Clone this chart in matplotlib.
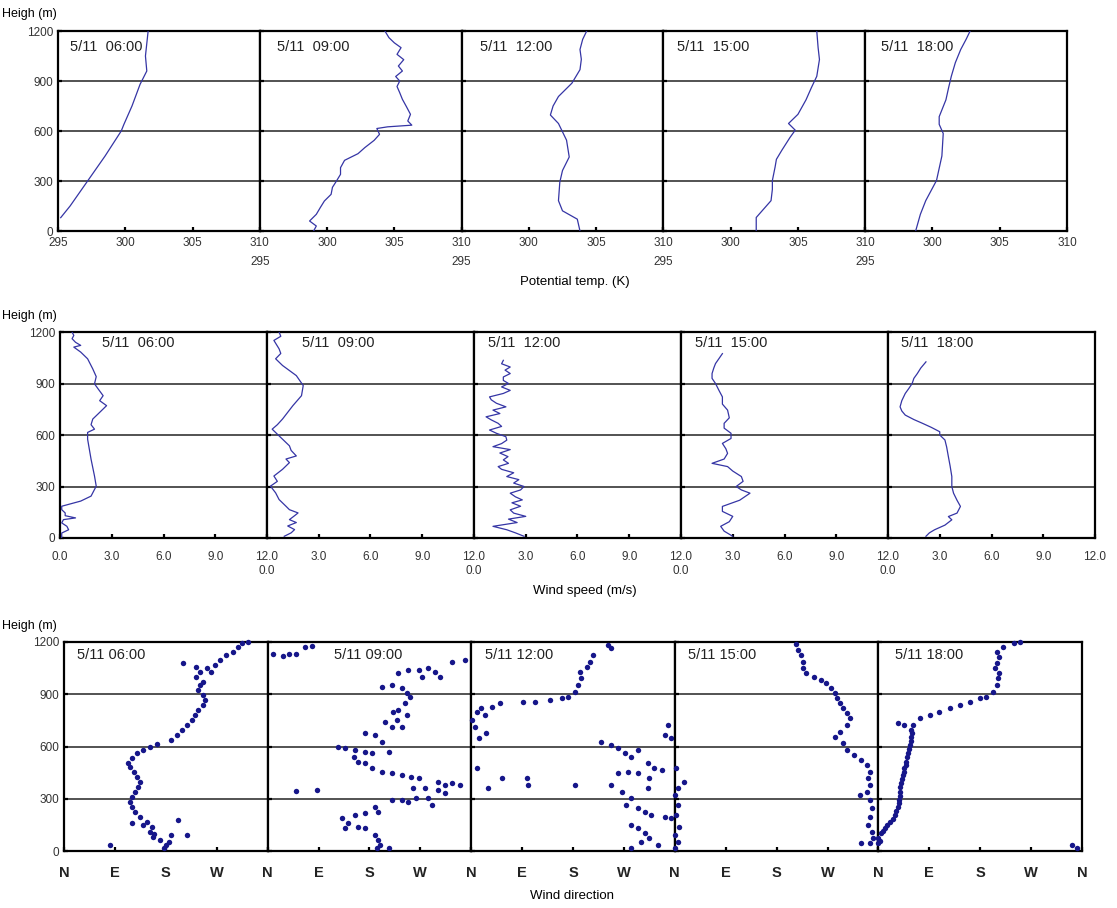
import matplotlib
matplotlib.use("Agg")
import matplotlib.pyplot as plt

plt.rcParams["font.family"] = ["Liberation Sans", "DejaVu Sans"]

TIMES = ["06:00", "09:00", "12:00", "15:00", "18:00"]

# --- potential temperature profiles (K) vs height (m) ---
th06_z = [80, 150, 300, 450, 600, 640, 750, 880, 960, 1050, 1200]
th06 = [295.2, 295.9, 297.2, 298.5, 299.7, 299.9, 300.5, 301.1, 301.6, 301.5, 301.7]
th09_z = [0, 30, 60, 100, 141, 180, 220, 262, 300, 340, 380, 424, 464, 500, 544, 580, 615, 625,
          635, 660, 700, 746, 790, 830, 867, 900, 927, 960, 990, 1028, 1060, 1100, 1129, 1160, 1200]
th09 = [299.0, 299.2, 298.7, 299.2, 299.5, 299.8, 300.3, 300.4, 300.7, 301.0, 301.0, 301.3, 302.3,
        302.8, 303.5, 303.9, 303.7, 304.5, 306.3, 306.0, 306.2, 305.9, 305.6, 305.4, 305.2, 305.4,
        305.1, 305.6, 305.3, 305.7, 305.2, 305.5, 305.0, 304.6, 304.3]
th12_z = [0, 71, 121, 182, 293, 363, 444, 545, 645, 696, 750, 807, 887, 968, 1030, 1089, 1150, 1200]
th12 = [303.8, 303.6, 302.5, 302.2, 302.3, 302.5, 303.0, 302.8, 302.2, 301.6, 301.8, 302.2, 303.2,
        303.8, 303.9, 303.8, 304.0, 304.3]
th15_z = [0, 81, 182, 250, 303, 383, 430, 484, 560, 605, 645, 700, 787, 860, 928, 1029, 1100, 1200]
th15 = [301.9, 301.9, 303.0, 303.1, 303.1, 303.3, 303.4, 303.8, 304.4, 304.8, 304.3, 305.0, 305.6,
        306.0, 306.4, 306.6, 306.5, 306.4]
th18_z = [0, 100, 182, 303, 450, 585, 640, 686, 787, 860, 928, 1010, 1089, 1150, 1200]
th18 = [298.75, 299.1, 299.5, 300.3, 300.7, 300.8, 300.5, 300.5, 301.0, 301.2, 301.4, 301.7, 302.1,
        302.5, 302.8]

# --- wind speed profiles (m/s) ---
ws06_z = [0, 29, 48, 68, 88, 107, 117, 130, 146, 165, 185, 215, 244, 302, 361, 459, 576, 615, 634,
          660, 693, 722, 771, 800, 829, 870, 898, 940, 985, 1044, 1083, 1112, 1122, 1140, 1161, 1180, 1200]
ws06 = [0.1, 0.1, 0.5, 0.4, 0.1, 0.2, 0.9, 0.3, 0.3, 0.1, 0.1, 1.2, 1.8, 2.1, 2.0, 1.8, 1.6, 1.6, 2.0,
        1.8, 1.9, 2.2, 2.7, 2.3, 2.5, 2.2, 2.0, 2.1, 1.9, 1.6, 1.2, 0.8, 1.2, 0.9, 0.7, 0.8, 0.7]
ws09_z = [10, 30, 49, 70, 90, 107, 130, 146, 165, 185, 224, 263, 302, 330, 361, 400, 439, 460, 478,
          510, 537, 595, 634, 660, 693, 771, 829, 888, 946, 1005, 1044, 1075, 1102, 1151, 1175, 1200]
ws09 = [1.0, 1.4, 1.6, 1.2, 1.7, 1.3, 1.6, 1.8, 1.3, 1.1, 0.7, 0.5, 0.2, 0.6, 0.4, 0.9, 1.3, 1.1, 1.7,
        1.4, 1.3, 0.7, 0.3, 0.6, 0.9, 1.5, 2.0, 2.1, 1.7, 0.9, 0.5, 0.8, 0.7, 0.4, 0.8, 0.7]
ws12_z = [10, 30, 48, 68, 90, 110, 126, 145, 164, 185, 205, 222, 240, 261, 280, 300, 320, 340, 358,
          380, 400, 416, 435, 455, 474, 495, 515, 532, 550, 570, 590, 610, 629, 650, 668, 688, 706,
          725, 745, 764, 785, 805, 822, 842, 860, 880, 900, 918, 938, 958, 978, 996, 1015, 1035]
ws12 = [2.9, 2.4, 1.9, 1.1, 2.5, 2.0, 3.0, 2.3, 2.1, 2.7, 2.2, 2.8, 2.4, 2.1, 2.7, 2.9, 2.3, 2.6, 1.9,
        2.3, 1.6, 1.4, 2.0, 1.7, 1.97, 1.5, 2.1, 1.1, 1.6, 1.9, 1.85, 1.3, 0.9, 1.6, 1.4, 1.0, 0.7,
        1.5, 1.1, 1.85, 1.3, 1.0, 0.9, 1.7, 2.1, 1.6, 2.0, 1.7, 1.7, 2.1, 1.8, 2.1, 1.6, 1.7]
ws15_z = [10, 40, 68, 95, 126, 155, 184, 220, 261, 280, 300, 330, 358, 390, 416, 435, 460, 493, 520,
          551, 580, 610, 640, 668, 700, 745, 780, 822, 860, 900, 930, 958, 990, 1016, 1045, 1074]
ws15 = [3.0, 2.5, 2.3, 2.8, 3.0, 2.4, 2.4, 3.4, 4.0, 3.5, 3.2, 3.6, 3.5, 3.0, 2.7, 1.8, 2.5, 2.7, 2.6,
        2.4, 2.9, 2.9, 2.5, 2.5, 2.8, 2.7, 2.4, 2.4, 2.2, 2.0, 1.8, 1.8, 1.9, 2.0, 2.2, 2.4]
ws18_z = [10, 30, 48, 75, 106, 125, 145, 184, 220, 261, 300, 358, 420, 474, 530, 571, 600, 619, 645,
          668, 690, 716, 740, 764, 800, 842, 870, 900, 930, 958, 990, 1026]
ws18 = [2.2, 2.4, 2.7, 3.3, 3.7, 3.5, 4.0, 4.2, 4.0, 3.8, 3.7, 3.7, 3.6, 3.5, 3.4, 3.3, 3.0, 3.0, 2.5,
        2.0, 1.5, 1.0, 0.8, 0.7, 0.8, 1.0, 1.2, 1.4, 1.5, 1.7, 1.9, 2.2]

# --- wind direction (deg, 0 = N) vs height (m) ---
wd06 = [181, 170, 158, 152, 155, 146, 134, 125, 120, 117, 120, 125, 131, 134, 129, 123, 117, 114,
        120, 129, 140, 152, 164, 190, 199, 208, 217, 226, 232, 237, 246, 249, 246, 237, 240, 246,
        234, 240, 252, 267, 276, 287, 299, 308, 314, 326,
        211, 234, 260, 120, 140, 202, 190, 217, 81, 185, 176, 160]
wd06_z = [34, 63, 82, 111, 140, 168, 197, 226, 255, 283, 312, 341, 369, 398, 427, 455, 484, 503,
          532, 561, 580, 599, 612, 637, 666, 695, 723, 752, 781, 810, 838, 867, 896, 924, 953, 972,
          1001, 1030, 1049, 1068, 1097, 1125, 1144, 1173, 1192, 1200,
          1077, 1058, 1030, 159, 149, 178, 92, 92, 34, 54, 20, 100]
wd09 = [10, 27, 37, 51, 66, 78, 326, 349, 231, 249, 267, 284, 296, 305, 273,
        202, 220, 237, 246, 252, 243, 231, 222, 246, 228, 208, 220, 237,
        172, 202, 190, 125, 137, 155, 172, 184, 214, 152, 160, 172, 184, 202, 220, 237, 254, 267,
        301, 314, 326, 340, 257, 278, 301, 314, 51, 87, 220, 237, 249, 263, 284, 290,
        190, 196, 172, 155, 131, 143, 160, 172, 137, 190, 196, 199, 193, 214]
wd09_z = [1131, 1121, 1131, 1131, 1169, 1178, 1087, 1097, 1020, 1039, 1039, 1049, 1030, 1001, 1001,
          944, 953, 934, 905, 886, 848, 810, 800, 781, 752, 743, 714, 714,
          676, 628, 666, 599, 590, 580, 570, 561, 570, 542, 513, 503, 475, 455, 446, 436, 427, 417,
          398, 379, 389, 379, 360, 360, 350, 331, 345, 350, 293, 293, 284, 303, 303, 264,
          255, 226, 216, 207, 188, 159, 140, 130, 130, 92, 63, 34, 15, 15]
wd12 = [242, 248, 216, 210, 204, 192, 195, 189, 183, 171, 160, 139, 113, 92, 51, 36, 18, 10, 24, 1,
        7, 27, 13, 10, 30, 54, 98, 101, 183,
        348, 343, 354, 230, 248, 260, 272, 283, 295, 313, 324, 337, 260, 277, 295, 315, 313, 248,
        266, 283, 274, 295, 307, 318, 343, 354, 283, 295, 307, 315, 301, 330, 283]
wd12_z = [1183, 1164, 1125, 1087, 1058, 1030, 991, 953, 915, 886, 876, 867, 857, 857, 848, 829, 819,
          800, 781, 752, 714, 676, 647, 475, 360, 417, 417, 379, 379,
          723, 666, 647, 628, 609, 590, 561, 542, 580, 503, 475, 465, 446, 455, 446, 417, 360, 379,
          341, 303, 264, 245, 226, 207, 197, 188, 149, 130, 101, 73, 54, 34, 15]
wd15 = [215, 218, 224, 226, 226, 232, 247, 259, 268, 277, 283, 286, 292, 298, 304, 310, 304, 292,
        283, 298, 304, 316, 330, 339, 345, 342, 345, 339, 327, 345, 348, 345, 342, 348, 351, 345, 330,
        3, 17, 5, 0, 5, 3, 8, 0, 5, 0]
wd15_z = [1187, 1154, 1125, 1087, 1049, 1020, 1001, 982, 963, 934, 905, 876, 848, 819, 790, 762,
          723, 685, 656, 618, 580, 551, 522, 494, 455, 417, 379, 341, 322, 293, 245, 197, 149, 111,
          73, 44, 44,
          475, 398, 360, 322, 264, 207, 140, 92, 54, 15]
wd18 = [0, 0, 5, 11, 20, 29, 35, 37, 38, 40, 43, 46, 49, 53, 55, 58, 58, 61, 46, 35,
        73, 91, 108, 126, 144, 162, 179, 191, 203, 209, 212, 214, 206, 209, 214, 209, 221, 239, 251,
        342, 351, 2, 8, 15, 25, 32, 36, 38, 39, 42, 45, 48, 51, 54, 57, 60]
wd18_z = [44, 73, 101, 130, 168, 207, 255, 293, 341, 389, 436, 475, 513, 561, 609, 656, 695, 723,
          723, 733, 762, 781, 800, 819, 838, 857, 876, 886, 915, 953, 991, 1020, 1049, 1077, 1116,
          1144, 1173, 1192, 1200, 34, 15, 58, 115, 150, 185, 230, 275, 318, 365, 412, 455, 494, 537,
          585, 632, 675]

LINE_C = "#3535a5"
DOT_C = "#16168a"
W, H = 1117, 908


def row_axes(fig, left, right, top, bottom):
    w = (right - left) / 5
    axes = []
    for i in range(5):
        ax = fig.add_axes([(left + i * w) / W, 1 - bottom / H, w / W, (bottom - top) / H])
        ax.set_ylim(0, 1200)
        ax.set_yticks([0, 300, 600, 900, 1200])
        for y in (300, 600, 900):
            ax.axhline(y, color="#444444", lw=1.3, zorder=1)
        for s in ax.spines.values():
            s.set_linewidth(1.6)
        ax.tick_params(direction="in", length=3, width=1.6, labelsize=8.5, labelcolor="#333333")
        if i > 0:
            ax.set_yticklabels([])
        axes.append(ax)
    return axes


def second_line(ax, x, text, dy):
    # start value of the next panel, printed under the end value of the previous one
    ax.annotate(text, xy=(x, 0), xycoords=("data", "axes fraction"), xytext=(0, dy),
                textcoords="offset points", ha="center", va="center", fontsize=8.5,
                color="#333333", annotation_clip=False)


def main():
    fig = plt.figure(figsize=(W / 100, H / 100), dpi=100)

    # row 1: potential temperature
    axes = row_axes(fig, 58, 1067, 31, 231)
    for i, (ax, x, z) in enumerate(zip(axes, [th06, th09, th12, th15, th18],
                                         [th06_z, th09_z, th12_z, th15_z, th18_z])):
        ax.plot(x, z, color=LINE_C, lw=0.9, zorder=3)
        ax.set_xlim(295, 310)
        ax.set_xticks([295, 300, 305, 310])
        ax.set_xticklabels(["295" if i == 0 else "", "300", "305", "310"])
        ax.tick_params(axis="x", pad=4)
        if i > 0:
            second_line(ax, 295, "295", -22.5)
    offs = [12, 17, 18, 14, 16]
    for i in range(5):
        fig.text((58 + i * 201.8 + offs[i]) / W, 1 - 47 / H, "5/11  " + TIMES[i],
                 fontsize=10.5, va="center", color="#222222")
    fig.text(2 / W, 1 - 14 / H, "Heigh (m)", fontsize=9, va="center")
    fig.text(575 / W, 1 - 282 / H, "Potential temp. (K)", fontsize=9.5, ha="center", va="center")

    # row 2: wind speed
    axes = row_axes(fig, 60, 1095, 332, 538)
    for i, (ax, x, z) in enumerate(zip(axes, [ws06, ws09, ws12, ws15, ws18],
                                         [ws06_z, ws09_z, ws12_z, ws15_z, ws18_z])):
        ax.plot(x, z, color=LINE_C, lw=0.9, zorder=3)
        ax.set_xlim(0, 12)
        ax.set_xticks([0, 3, 6, 9, 12])
        ax.set_xticklabels(["0.0" if i == 0 else "", "3.0", "6.0", "9.0", "12.0"])
        ax.tick_params(axis="x", pad=9)
        if i > 0:
            second_line(ax, 0, "0.0", -23.5)
    offs = [42, 35, 14, 14, 13]
    for i in range(5):
        fig.text((60 + i * 207 + offs[i]) / W, 1 - 343 / H, "5/11  " + TIMES[i],
                 fontsize=10.5, va="center", color="#222222")
    fig.text(2 / W, 1 - 316 / H, "Heigh (m)", fontsize=9, va="center")
    fig.text(585 / W, 1 - 591 / H, "Wind speed (m/s)", fontsize=9.5, ha="center", va="center")

    # row 3: wind direction
    axes = row_axes(fig, 64, 1082, 642, 851)
    for i, (ax, x, z) in enumerate(zip(axes, [wd06, wd09, wd12, wd15, wd18],
                                         [wd06_z, wd09_z, wd12_z, wd15_z, wd18_z])):
        ax.plot(x, z, ls="none", marker="o", ms=3.9, mew=0, color=DOT_C, zorder=3, clip_on=False)
        ax.set_xlim(0, 360)
        ax.set_xticks([0, 90, 180, 270, 360])
        ax.set_xticklabels(["N" if i == 0 else "", "E", "S", "W", "N"],
                           fontweight="bold", fontsize=10.5, color="#222222")
        ax.tick_params(axis="x", pad=11)
    offs = [13, 66, 14, 13, 17]
    for i in range(5):
        fig.text((64 + i * 203.6 + offs[i]) / W, 1 - 655 / H, "5/11 " + TIMES[i],
                 fontsize=10.5, va="center", color="#222222")
    fig.text(2 / W, 1 - 626 / H, "Heigh (m)", fontsize=9, va="center")
    fig.text(572 / W, 1 - 896 / H, "Wind direction", fontsize=9.5, ha="center", va="center")

    fig.savefig("out.png", dpi=100)


if __name__ == "__main__":
    main()
